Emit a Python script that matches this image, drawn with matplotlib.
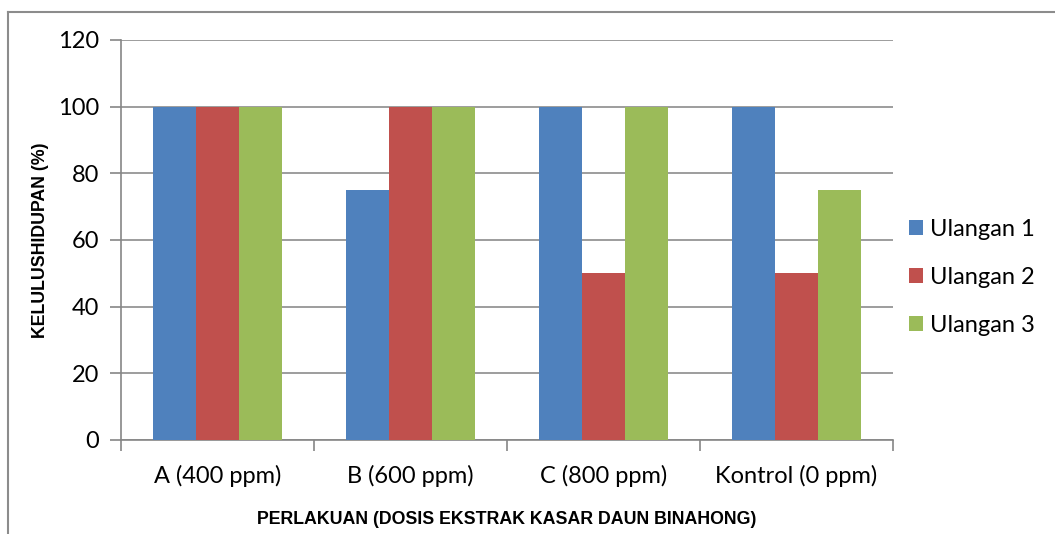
import matplotlib
matplotlib.use("Agg")
import matplotlib.pyplot as plt
import numpy as np
from matplotlib.lines import Line2D

categories = ["A (400 ppm)", "B (600 ppm)", "C (800 ppm)", "Kontrol (0 ppm)"]
series_names = ["Ulangan 1", "Ulangan 2", "Ulangan 3"]
ulangan1 = [100, 75, 100, 100]
ulangan2 = [100, 100, 50, 50]
ulangan3 = [100, 100, 100, 75]
colors = ["#4F81BD", "#C0504D", "#9BBB59"]

fig = plt.figure(figsize=(10.55, 5.34), dpi=100)
ax = fig.add_axes([121/1055, 1-440/534, (893-121)/1055, 400/534])

x = np.arange(len(categories))
w = 43/193
for i, (vals, c, n) in enumerate(zip([ulangan1, ulangan2, ulangan3], colors, series_names)):
    ax.bar(x + (i-1)*w, vals, width=w, color=c, label=n, zorder=3)

ax.set_xlim(-0.5, len(categories)-0.5)
ax.set_ylim(0, 120)
ax.set_yticks(range(0, 121, 20))
ax.set_xticks(x)
ax.set_xticklabels(categories)
ax.set_xticks(np.arange(-0.5, len(categories), 1), minor=True)
ax.tick_params(axis='x', which='major', length=0, pad=18)
ax.tick_params(axis='x', which='minor', length=8, color='#868686', width=1.2)
ax.tick_params(axis='y', length=8, color='#868686', width=1.2, pad=8)
for lab in ax.get_xticklabels() + ax.get_yticklabels():
    lab.set_fontfamily("Lato")
    lab.set_fontsize(17)
ax.grid(axis='y', color='#8C8C8C', linewidth=1.2, zorder=0)
for s in ['top', 'right']:
    ax.spines[s].set_visible(False)
for s in ['left', 'bottom']:
    ax.spines[s].set_color('#868686')
    ax.spines[s].set_linewidth(1.2)

ax.set_xlabel("PERLAKUAN (DOSIS EKSTRAK KASAR DAUN BINAHONG)", fontfamily="Liberation Sans",
              fontweight="bold", fontsize=12.8, labelpad=17)
ax.set_ylabel("KELULUSHIDUPAN (%)", fontfamily="Liberation Sans", fontweight="bold",
              fontsize=12.8, labelpad=6)

leg = fig.legend(loc='upper left', bbox_to_anchor=(909/1055, 1-219/534), frameon=False,
                 prop={'family': 'Lato', 'size': 17}, handlelength=0.6, handleheight=0.6,
                 handletextpad=0.3, labelspacing=1.15, borderaxespad=0, borderpad=0)

# chart border
fig.add_artist(Line2D([8/1055, 8/1055], [0, 1-12/534], transform=fig.transFigure, color='#8C8C8C', lw=1.5))
fig.add_artist(Line2D([8/1055, 1], [1-12/534, 1-12/534], transform=fig.transFigure, color='#8C8C8C', lw=1.5))

fig.savefig("out.png", dpi=100)
